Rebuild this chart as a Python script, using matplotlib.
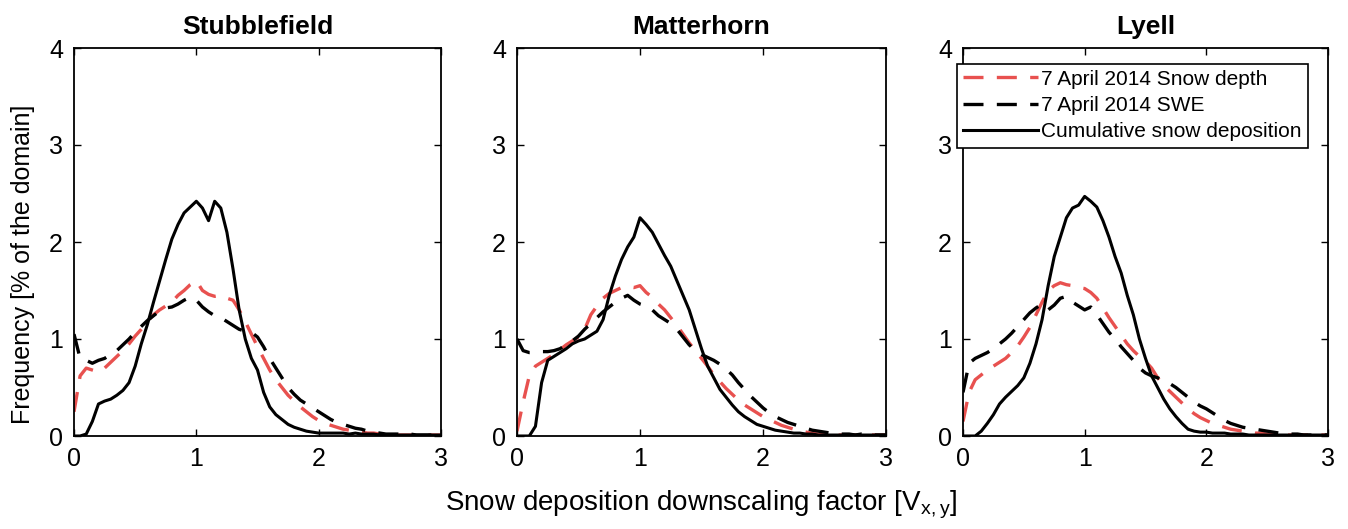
import numpy as np
import matplotlib
matplotlib.use("Agg")
import matplotlib.pyplot as plt

plt.rcParams['font.family'] = ['Liberation Sans', 'DejaVu Sans']
narrow = ['Liberation Sans Narrow', 'Liberation Sans', 'DejaVu Sans']

# downscaling factor grid (bin centres)
x = np.round(np.arange(0, 3.001, 0.05), 2)

sites = ['Stubblefield', 'Matterhorn', 'Lyell']

# Stubblefield
stub_depth = [0.25, 0.62, 0.70, 0.68, 0.66, 0.70, 0.76, 0.82, 0.88, 0.95, 1.03, 1.10, 1.18, 1.25, 1.30, 1.34,
              1.38, 1.45, 1.50, 1.56, 1.60, 1.50, 1.46, 1.44, 1.45, 1.42, 1.40, 1.30, 1.18, 1.05, 0.92, 0.80,
              0.68, 0.58, 0.50, 0.42, 0.36, 0.30, 0.25, 0.20, 0.16, 0.13, 0.11, 0.09, 0.07, 0.06, 0.05, 0.04,
              0.03, 0.03, 0.02, 0.02, 0.02, 0.01, 0.01, 0.01, 0.01, 0.01, 0.01, 0.01, 0.01]
stub_swe = [1.05, 0.80, 0.78, 0.75, 0.78, 0.80, 0.84, 0.88, 0.94, 1.00, 1.07, 1.13, 1.19, 1.24, 1.29, 1.32,
            1.33, 1.36, 1.40, 1.43, 1.40, 1.33, 1.28, 1.24, 1.22, 1.18, 1.14, 1.10, 1.08, 1.07, 1.02, 0.92,
            0.80, 0.70, 0.60, 0.50, 0.43, 0.37, 0.33, 0.29, 0.25, 0.21, 0.17, 0.14, 0.12, 0.10, 0.08, 0.07,
            0.05, 0.04, 0.03, 0.02, 0.02, 0.02, 0.01, 0.02, 0.01, 0.01, 0.01, 0.01, 0.01]
stub_cum = [0.00, 0.00, 0.02, 0.15, 0.33, 0.36, 0.38, 0.42, 0.47, 0.55, 0.72, 0.95, 1.15, 1.38, 1.60, 1.82,
            2.03, 2.18, 2.30, 2.36, 2.42, 2.35, 2.22, 2.42, 2.35, 2.10, 1.72, 1.30, 1.00, 0.80, 0.68, 0.45,
            0.30, 0.22, 0.17, 0.12, 0.09, 0.07, 0.05, 0.04, 0.03, 0.03, 0.03, 0.03, 0.03, 0.02, 0.03, 0.02,
            0.02, 0.02, 0.01, 0.01, 0.01, 0.01, 0.01, 0.01, 0.01, 0.01, 0.01, 0.01, 0.01]

# Matterhorn
matt_depth = [0.05, 0.35, 0.62, 0.72, 0.76, 0.80, 0.84, 0.89, 0.94, 0.98, 1.02, 1.10, 1.25, 1.34, 1.42, 1.47,
              1.50, 1.53, 1.54, 1.53, 1.55, 1.48, 1.43, 1.36, 1.30, 1.22, 1.14, 1.05, 0.96, 0.88, 0.80, 0.72,
              0.63, 0.56, 0.49, 0.43, 0.37, 0.32, 0.28, 0.24, 0.20, 0.17, 0.14, 0.11, 0.09, 0.07, 0.05, 0.04,
              0.03, 0.02, 0.02, 0.01, 0.01, 0.01, 0.01, 0.01, 0.01, 0.01, 0.01, 0.01, 0.01]
matt_swe = [1.00, 0.88, 0.86, 0.86, 0.87, 0.87, 0.88, 0.90, 0.94, 0.98, 1.03, 1.10, 1.16, 1.22, 1.28, 1.33,
            1.38, 1.42, 1.45, 1.40, 1.36, 1.34, 1.30, 1.24, 1.20, 1.16, 1.10, 1.02, 0.94, 0.88, 0.84, 0.81,
            0.78, 0.74, 0.69, 0.63, 0.55, 0.48, 0.41, 0.35, 0.29, 0.24, 0.20, 0.17, 0.14, 0.12, 0.10, 0.08,
            0.06, 0.05, 0.04, 0.03, 0.02, 0.02, 0.02, 0.01, 0.02, 0.01, 0.01, 0.01, 0.01]
matt_cum = [0.00, 0.00, 0.00, 0.10, 0.55, 0.78, 0.82, 0.86, 0.90, 0.95, 0.98, 1.00, 1.04, 1.08, 1.20, 1.45,
            1.65, 1.82, 1.95, 2.05, 2.25, 2.18, 2.10, 1.98, 1.86, 1.75, 1.60, 1.45, 1.30, 1.10, 0.90, 0.72,
            0.60, 0.48, 0.40, 0.32, 0.25, 0.20, 0.16, 0.12, 0.10, 0.08, 0.06, 0.05, 0.04, 0.03, 0.03, 0.02,
            0.02, 0.01, 0.01, 0.01, 0.01, 0.01, 0.01, 0.01, 0.01, 0.01, 0.01, 0.01, 0.01]

# Lyell
lyell_depth = [0.15, 0.45, 0.58, 0.63, 0.68, 0.72, 0.76, 0.80, 0.86, 0.93, 1.02, 1.12, 1.25, 1.38, 1.50, 1.55,
               1.58, 1.56, 1.55, 1.53, 1.52, 1.48, 1.42, 1.32, 1.22, 1.13, 1.04, 0.95, 0.88, 0.82, 0.77, 0.70,
               0.60, 0.52, 0.46, 0.40, 0.34, 0.28, 0.23, 0.19, 0.16, 0.13, 0.11, 0.09, 0.07, 0.06, 0.05, 0.04,
               0.03, 0.03, 0.02, 0.02, 0.01, 0.01, 0.01, 0.01, 0.01, 0.01, 0.01, 0.01, 0.01]
lyell_swe = [0.45, 0.75, 0.80, 0.83, 0.86, 0.90, 0.95, 1.00, 1.06, 1.13, 1.20, 1.27, 1.32, 1.36, 1.30, 1.35,
             1.42, 1.44, 1.38, 1.34, 1.30, 1.33, 1.25, 1.16, 1.07, 1.00, 0.92, 0.85, 0.78, 0.70, 0.65, 0.62,
             0.60, 0.57, 0.54, 0.50, 0.45, 0.40, 0.35, 0.31, 0.28, 0.24, 0.20, 0.16, 0.13, 0.11, 0.09, 0.08,
             0.07, 0.06, 0.05, 0.04, 0.03, 0.03, 0.02, 0.02, 0.01, 0.01, 0.01, 0.01, 0.01]
lyell_cum = [0.00, 0.00, 0.00, 0.05, 0.13, 0.22, 0.33, 0.40, 0.46, 0.52, 0.60, 0.75, 0.95, 1.20, 1.55, 1.85,
             2.05, 2.25, 2.35, 2.38, 2.47, 2.42, 2.36, 2.22, 2.05, 1.85, 1.68, 1.45, 1.25, 1.00, 0.80, 0.62,
             0.50, 0.38, 0.28, 0.20, 0.13, 0.07, 0.05, 0.04, 0.04, 0.03, 0.03, 0.03, 0.02, 0.02, 0.02, 0.01,
             0.01, 0.01, 0.01, 0.01, 0.01, 0.01, 0.01, 0.01, 0.01, 0.01, 0.01, 0.01, 0.01]

depth = [stub_depth, matt_depth, lyell_depth]
swe = [stub_swe, matt_swe, lyell_swe]
cum = [stub_cum, matt_cum, lyell_cum]

red = '#e8514f'

fig = plt.figure(figsize=(13.48, 5.29), dpi=100)
lefts = [74, 517, 963]
widths = [367, 369, 365]

for i in range(3):
    ax = fig.add_axes([lefts[i] / 1348, 1 - 436 / 529, widths[i] / 1348, 388 / 529])
    ax.plot(x, depth[i], color=red, lw=2.4, dashes=(6, 4), label='7 April 2014 Snow depth')
    ax.plot(x, swe[i], color='black', lw=2.4, dashes=(6, 4), label='7 April 2014 SWE')
    ax.plot(x, cum[i], color='black', lw=2.2, label='Cumulative snow deposition')
    ax.set_xlim(0, 3)
    ax.set_ylim(0, 4)
    ax.set_xticks([0, 1, 2, 3])
    ax.set_yticks([0, 1, 2, 3, 4])
    ax.tick_params(direction='in', top=True, right=True, length=5, width=1, pad=8)
    for lab in ax.get_xticklabels() + ax.get_yticklabels():
        lab.set_family(narrow)
        lab.set_fontsize(18)
    for s in ax.spines.values():
        s.set_linewidth(1.3)
    ax.set_title(sites[i], fontsize=19, fontweight='bold', pad=10)
    if i == 2:
        leg = ax.legend(loc='upper left', bbox_to_anchor=(-0.017, 0.96), fontsize=15,
                        handlelength=3.6, handletextpad=0.15, labelspacing=0.35,
                        borderpad=0.3, borderaxespad=0, fancybox=False, framealpha=1,
                        edgecolor='black')
        leg.get_frame().set_linewidth(1.2)

fig.text(0.52, 0.045, 'Snow deposition downscaling factor [V$_{\\mathregular{x,y}}$]',
         ha='center', va='center', fontsize=20, family=narrow)
fig.text(0.017, 0.5, 'Frequency [% of the domain]', rotation=90, ha='center', va='center', fontsize=18)

fig.savefig('out.png', dpi=100)
